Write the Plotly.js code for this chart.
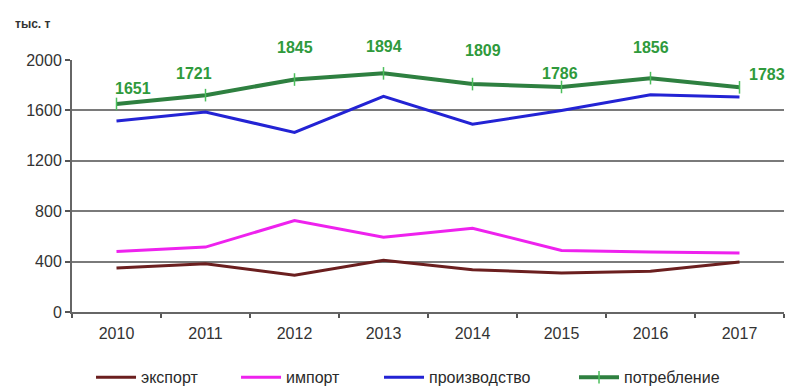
<!DOCTYPE html>
<html>
<head>
<meta charset="utf-8">
<script src="https://cdn.plot.ly/plotly-3.0.1.min.js"></script>
<style>
  html, body { margin: 0; padding: 0; background: #fff; }
  #chart { width: 786px; height: 389px; }
</style>
</head>
<body>
<div id="chart"></div>
<script>
// Years on the category axis
const years = ['2010', '2011', '2012', '2013', '2014', '2015', '2016', '2017'];

// Series, thousand tonnes
const exportVals      = [349, 383, 291, 410, 336, 310, 323, 397];
const importVals      = [481, 515, 726, 594, 665, 489, 476, 468];
const productionVals  = [1516, 1587, 1425, 1711, 1490, 1600, 1725, 1706];
const consumptionVals = [1651, 1721, 1845, 1894, 1809, 1786, 1856, 1783];

// Series names for the legend
const seriesNames = ['экспорт', 'импорт', 'производство', 'потребление'];

// Pixel offsets for the consumption value labels
const labelShiftX = [16, -12, 0, 0, 10, -2, 0, 27];
const labelShiftY = [15, 22, 32, 27, 34, 13, 31, 13];

// Left edges of the four legend entries (fraction of the page width)
const legendX = [0.1158, 0.3003, 0.4822, 0.7303];

const font = 'Liberation Sans, Arial, sans-serif';

const traces = [
  { x: years, y: exportVals, name: seriesNames[0], mode: 'lines', legend: 'legend',
    line: { color: '#6b1f1f', width: 3 } },
  { x: years, y: importVals, name: seriesNames[1], mode: 'lines', legend: 'legend2',
    line: { color: '#ee22ee', width: 3 } },
  { x: years, y: productionVals, name: seriesNames[2], mode: 'lines', legend: 'legend3',
    line: { color: '#2323d4', width: 3 } },
  { x: years, y: consumptionVals, name: seriesNames[3], mode: 'lines+markers', legend: 'legend4',
    line: { color: '#2e8040', width: 4 },
    marker: { symbol: 'line-ns-open', size: 9, color: '#4cbf5c', line: { width: 1.5, color: '#4cbf5c' } } }
];

// Value labels for consumption; x is the category index on the axis
const annotations = years.map((yr, i) => ({
  x: i, y: consumptionVals[i], xref: 'x', yref: 'y',
  text: '<b>' + consumptionVals[i] + '</b>', showarrow: false,
  xshift: labelShiftX[i], yshift: labelShiftY[i],
  font: { family: font, size: 16, color: '#2f9a3c' }
}));

annotations.push({
  xref: 'paper', yref: 'paper', x: -0.083, y: 1.143, xanchor: 'left', yanchor: 'middle',
  text: '<b>тыс. т</b>', showarrow: false,
  font: { family: font, size: 12, color: '#333' }
});

function legendAt(x) {
  return {
    xref: 'container', yref: 'container', x: x, xanchor: 'left', y: 0.03, yanchor: 'middle',
    orientation: 'h', bgcolor: 'rgba(0,0,0,0)',
    font: { family: font, size: 16, color: '#2a2a2a' },
    itemwidth: 40
  };
}

const layout = {
  width: 786, height: 389,
  margin: { l: 72, r: 2, t: 60, b: 77 },
  paper_bgcolor: '#fff', plot_bgcolor: '#fff',
  showlegend: true,
  legend: legendAt(legendX[0]),
  legend2: legendAt(legendX[1]),
  legend3: legendAt(legendX[2]),
  legend4: legendAt(legendX[3]),
  xaxis: {
    type: 'category', tickson: 'boundaries', range: [-0.5, 7.5], autorange: false,
    ticks: 'outside', ticklen: 4, tickcolor: '#555', tickwidth: 2,
    showline: true, linecolor: '#666', linewidth: 2,
    showgrid: false, zeroline: false, ticklabelstandoff: 6,
    tickfont: { family: font, size: 16, color: '#333' },
    fixedrange: true
  },
  yaxis: {
    range: [0, 2000], autorange: false, tickvals: [0, 400, 800, 1200, 1600, 2000],
    ticks: 'outside', ticklen: 5, tickcolor: '#555', tickwidth: 2,
    showline: true, linecolor: '#666', linewidth: 2,
    showgrid: true, gridcolor: '#7a7a7a', gridwidth: 2,
    zeroline: false,
    tickfont: { family: font, size: 16, color: '#333' },
    fixedrange: true
  },
  annotations: annotations
};

Plotly.newPlot('chart', traces, layout, { displayModeBar: false, staticPlot: true });
</script>
</body>
</html>
